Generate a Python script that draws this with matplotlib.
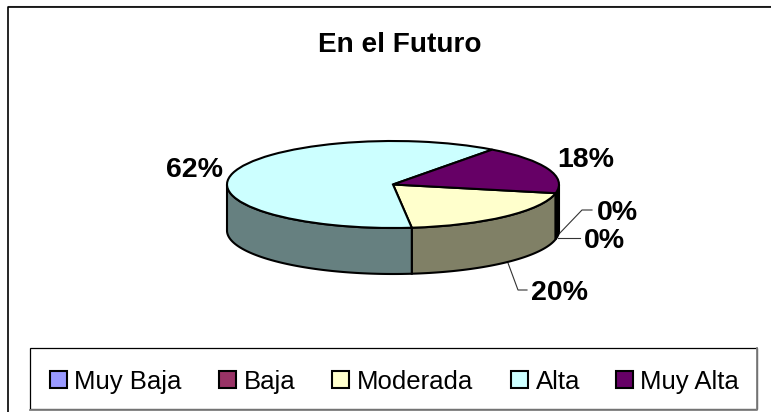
import numpy as np
import matplotlib
matplotlib.use('Agg')
import matplotlib.pyplot as plt
from matplotlib.patches import Rectangle

plt.rcParams['font.family'] = ['Liberation Sans', 'DejaVu Sans']

categorias = ['Muy Baja', 'Baja', 'Moderada', 'Alta', 'Muy Alta']
valores = [0, 0, 20, 62, 18]
etiquetas = ['0%', '0%', '20%', '62%', '18%']
colores = ['#9999FF', '#993366', '#FFFFCC', '#CCFFFF', '#660066']
paredes = ['#4D4D80', '#4D1A33', '#808066', '#668080', '#000000']

W, H = 771, 412
fig = plt.figure(figsize=(W/100, H/100), dpi=100)

# fondo en pixeles
fondo = fig.add_axes([0, 0, 1, 1])
fondo.set_xlim(0, W)
fondo.set_ylim(H, 0)
fondo.axis('off')
# el marco solo se ve arriba y a la izquierda
fondo.plot([8, W], [5.8, 5.8], color='#999999', lw=0.8)
fondo.plot([W, 8, 8], [7, 7, H], color='black', lw=1.2)
fondo.text(400, 52, 'En el Futuro', ha='center', va='baseline', fontsize=20.2, fontweight='bold')

# torta: eje con la elipse superior en -1..1
x0, x1, y_top, y_bot = 227, 559, 141, 228
alto = 46 / ((y_bot - y_top) / 2)
ax = fig.add_axes([x0/W, 1 - y_bot/H, (x1-x0)/W, (y_bot-y_top)/H])
inicio = -11.5

angulos = inicio - np.cumsum([0] + valores) * 3.6
for i in range(len(valores)):
    if valores[i] == 0:
        continue
    a = np.radians(np.linspace(angulos[i], angulos[i+1], 400))
    # pared lateral, solo la mitad delantera
    vis = np.sin(a) <= 0
    if vis.any():
        xs = np.cos(a[vis])
        ys = np.sin(a[vis])
        ax.fill(np.r_[xs, xs[::-1]], np.r_[ys, ys[::-1] - alto], fc=paredes[i], ec='black', lw=1.5, clip_on=False, zorder=1)

ax.pie(valores, colors=colores, startangle=inicio, counterclock=False, radius=1,
       wedgeprops=dict(edgecolor='black', linewidth=1.5, clip_on=False, zorder=2))
ax.set_aspect('auto')
ax.set_xlim(-1, 1)
ax.set_ylim(-1, 1)
ax.axis('off')

# etiquetas con lineas guia
posiciones = [(617, 220), (604.5, 248), (560, 300), (194.5, 177), (585.5, 167)]
guias = [[(558, 235), (582, 210), (592, 210)], [(558, 238), (580, 238)], [(508, 263), (518, 290), (527, 290)], None, None]
for i in range(len(etiquetas)):
    fondo.text(posiciones[i][0], posiciones[i][1], etiquetas[i], ha='center', va='baseline',
               fontsize=20.5, fontweight='bold', zorder=5)
    if guias[i]:
        g = np.array(guias[i])
        fondo.plot(g[:, 0], g[:, 1], color='#333333', lw=0.8, zorder=4)

# leyenda
fondo.add_patch(Rectangle((30, 348), 727, 61, fc='white', ec='black', lw=0.9))
fondo.plot([30, 757, 757], [409.5, 409.5, 348], color='#808080', lw=1.3)
cuadros = [50, 219, 332, 511, 616]
for i in range(len(categorias)):
    fondo.add_patch(Rectangle((cuadros[i], 371), 17, 17, fc=colores[i], ec='black', lw=1.5))
    fondo.text(cuadros[i] + 24.5, 389, categorias[i], ha='left', va='baseline', fontsize=18.5)

fig.savefig('out.png', dpi=100)
